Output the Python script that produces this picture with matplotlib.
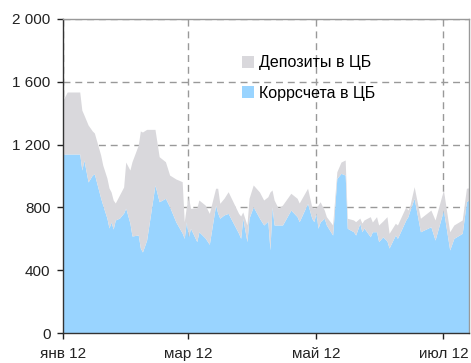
import matplotlib

matplotlib.use("Agg")

import matplotlib.dates as mdates
import matplotlib.pyplot as plt
import pandas as pd
from matplotlib.patches import Patch

plt.rcParams["font.family"] = ["Liberation Sans", "DejaVu Sans"]

# daily points (2012)
dates = [
    "2012-01-01", "2012-01-03", "2012-01-09", "2012-01-10", "2012-01-11",
    "2012-01-13", "2012-01-15", "2012-01-16", "2012-01-19", "2012-01-20",
    "2012-01-22", "2012-01-23", "2012-01-24", "2012-01-25", "2012-01-26",
    "2012-01-28", "2012-01-30", "2012-01-31", "2012-02-02", "2012-02-03",
    "2012-02-06", "2012-02-07", "2012-02-08", "2012-02-10", "2012-02-14",
    "2012-02-16", "2012-02-19", "2012-02-21", "2012-02-24", "2012-02-27",
    "2012-02-28", "2012-02-29", "2012-03-01", "2012-03-02", "2012-03-05",
    "2012-03-06", "2012-03-09", "2012-03-11", "2012-03-14", "2012-03-15",
    "2012-03-16", "2012-03-18", "2012-03-20", "2012-03-25", "2012-03-26",
    "2012-03-27", "2012-03-29", "2012-03-30", "2012-04-01", "2012-04-04",
    "2012-04-06", "2012-04-08", "2012-04-09", "2012-04-10", "2012-04-11",
    "2012-04-13", "2012-04-15", "2012-04-19", "2012-04-22", "2012-04-23",
    "2012-04-27", "2012-04-29", "2012-04-30", "2012-05-01", "2012-05-02",
    "2012-05-03", "2012-05-05", "2012-05-06", "2012-05-09", "2012-05-11",
    "2012-05-13", "2012-05-15", "2012-05-16", "2012-05-19", "2012-05-20",
    "2012-05-22", "2012-05-23", "2012-05-24", "2012-05-27", "2012-05-28",
    "2012-05-30", "2012-05-31", "2012-06-02", "2012-06-04", "2012-06-05",
    "2012-06-08", "2012-06-09", "2012-06-13", "2012-06-14", "2012-06-15",
    "2012-06-17", "2012-06-20", "2012-06-25", "2012-06-27", "2012-07-01",
    "2012-07-04", "2012-07-06", "2012-07-10", "2012-07-12", "2012-07-13",
]

# correspondent accounts (lower layer)
korr = [
    1140, 1140, 1140, 1038, 1102, 962, 1006, 1013, 860, 815,
    732, 669, 707, 662, 720, 732, 764, 796, 700, 618,
    624, 541, 516, 592, 943, 836, 858, 804, 707, 637,
    603, 709, 613, 667, 582, 645, 605, 565, 815, 764,
    731, 752, 762, 635, 603, 731, 582, 732, 804, 731,
    688, 713, 529, 804, 688, 688, 688, 783, 741, 709,
    826, 732, 709, 764, 667, 707, 731, 688, 624, 985,
    1017, 1006, 667, 645, 624, 699, 645, 669, 613, 645,
    645, 582, 613, 586, 541, 624, 603, 720, 741, 783,
    858, 645, 677, 592, 783, 529, 603, 635, 836, 847,
]

# korr + deposits (top of the stack)
total = [
    1484, 1535, 1535, 1420, 1389, 1325, 1287, 1274, 1134, 1070,
    987, 924, 898, 847, 828, 879, 930, 1089, 1038, 1091,
    1197, 1287, 1280, 1297, 1297, 1123, 1091, 1006, 981, 964,
    709, 804, 868, 794, 796, 847, 815, 762, 922, 922,
    826, 858, 900, 762, 745, 771, 688, 858, 943, 898,
    847, 868, 898, 911, 847, 794, 815, 890, 858, 828,
    922, 804, 796, 796, 815, 836, 783, 741, 688, 1027,
    1089, 1102, 731, 720, 709, 732, 700, 720, 741, 707,
    741, 688, 713, 741, 635, 699, 688, 804, 783, 815,
    932, 731, 783, 720, 911, 645, 688, 720, 922, 924,
]

series_labels = ["Депозиты в ЦБ", "Коррсчета в ЦБ"]
series_colors = ["#d9d8dc", "#99d4ff"]

tick_dates = ["2012-01-01", "2012-03-01", "2012-05-01", "2012-07-01"]
tick_labels = ["янв 12", "мар 12", "май 12", "июл 12"]
y_ticks = [0, 400, 800, 1200, 1600, 2000]

x = pd.to_datetime(dates)

fig = plt.figure(figsize=(4.71, 3.63), dpi=100)
ax = fig.add_axes([0.1338, 0.0826, 0.8609, 0.8651])

ax.fill_between(x, 0, korr, color=series_colors[1], linewidth=0, zorder=2)
ax.fill_between(x, korr, total, color=series_colors[0], linewidth=0, zorder=2)

ax.set_xlim(pd.Timestamp("2012-01-01"), pd.Timestamp("2012-07-13"))
ax.set_ylim(0, 2000)

ax.set_xticks(mdates.date2num(pd.to_datetime(tick_dates)))
ax.set_xticklabels(tick_labels, fontsize=11)
ax.set_yticks(y_ticks)
ax.set_yticklabels([f"{v:,}".replace(",", " ") for v in y_ticks], fontsize=11)

ax.tick_params(axis="both", direction="out", length=4, width=1, colors="#222222")
ax.tick_params(axis="y", pad=5)
ax.tick_params(axis="x", pad=6)

ax.grid(True, color="#999999", linestyle=(0, (5, 3.5)), linewidth=1, zorder=1)
ax.set_axisbelow(True)

for side in ["left", "bottom"]:
    ax.spines[side].set_color("#333333")
    ax.spines[side].set_linewidth(1)
for side in ["top", "right"]:
    ax.spines[side].set_color("#999999")
    ax.spines[side].set_linewidth(1)

handles = [Patch(facecolor=c, edgecolor="none") for c in series_colors]
ax.legend(
    handles,
    series_labels,
    loc="upper left",
    bbox_to_anchor=(228 / 471, 1 - 41 / 363),
    bbox_transform=fig.transFigure,
    frameon=False,
    fontsize=11.5,
    handlelength=0.75,
    handleheight=0.75,
    handletextpad=0.3,
    labelspacing=0.95,
)

fig.savefig("out.png", dpi=100)
plt.close(fig)
